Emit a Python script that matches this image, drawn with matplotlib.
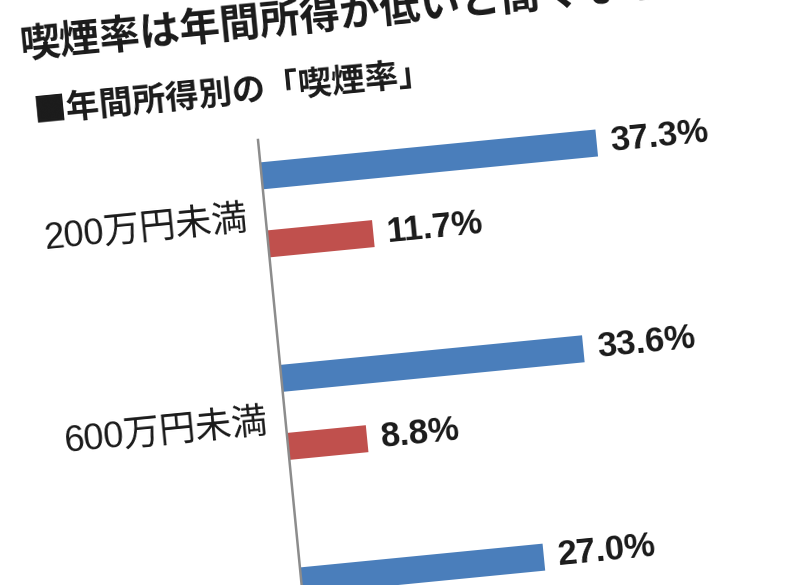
import matplotlib
matplotlib.use('Agg')
import matplotlib.pyplot as plt
from matplotlib.transforms import Affine2D

title = '喫煙率は年間所得が低いと高くなる'
subtitle = '■年間所得別の「喫煙率」'
categories = ['200万円未満', '600万円未満']
blue_values = [37.3, 33.6, 27.0]
red_values = [11.7, 8.8]

W, H = 810, 585
TILT = 5.6                 # the whole picture is turned a little
PIVOT = (258, H - 140)     # top of the value axis, display px
JP = ['Noto Sans CJK JP', 'DejaVu Sans']
LABEL_FONT = ['Liberation Sans', 'Noto Sans CJK JP']

fig = plt.figure(figsize=(W / 100, H / 100), dpi=100)
fig.patch.set_facecolor('white')

px_per_pct = 9.03
px_per_group = 203.5
x_max = 50
y_top, y_bottom = -0.345, 2.8
ax_w = x_max * px_per_pct
ax_h = (y_bottom - y_top) * px_per_group
ax = fig.add_axes([PIVOT[0] / W, (PIVOT[1] - ax_h) / H, ax_w / W, ax_h / H])
ax.set_xlim(0, x_max)
ax.set_ylim(y_bottom, y_top)
ax.axis('off')

rot = Affine2D().rotate_deg_around(PIVOT[0], PIVOT[1], TILT)
tilted = ax.transData + rot

bar_h = 0.133
offset = 0.168
blue_y = [i - offset for i in range(len(blue_values))]
red_y = [i + offset for i in range(len(red_values))]

for ys, vals, color in [(blue_y, blue_values, '#4a7ebb'), (red_y, red_values, '#c0504d')]:
    bars = ax.barh(ys, vals, height=bar_h, color=color)
    for b in bars:
        b.set_transform(tilted)
        b.set_clip_on(False)
    for y, v in zip(ys, vals):
        ax.text(v + 14 / px_per_pct, y, f'{v:.1f}%', transform=tilted,
                rotation=TILT, rotation_mode='anchor', ha='left', va='center',
                fontsize=25, fontweight='bold', family='Liberation Sans',
                color='#1a1a1a', clip_on=False)

for i, cat in enumerate(categories):
    ax.text(-18.5 / px_per_pct, i + 8 / px_per_group, cat, transform=tilted,
            rotation=TILT, rotation_mode='anchor', ha='right', va='center',
            fontsize=26, family=LABEL_FONT, color='#1a1a1a', clip_on=False)

# value axis line
ax.plot([0, 0], [y_top, y_bottom], color='#8c8c8c', lw=1.8,
        transform=tilted, clip_on=False)

fig_rot = fig.transFigure + rot
fig.text(30 / W, 1 - 23.5 / H, title, transform=fig_rot, rotation=TILT,
         rotation_mode='anchor', ha='left', va='center', fontsize=29,
         fontweight='bold', family=JP, color='#1a1a1a')
fig.text(37 / W, 1 - 90.5 / H, subtitle, transform=fig_rot, rotation=TILT,
         rotation_mode='anchor', ha='left', va='center', fontsize=24,
         fontweight='bold', family=JP, color='#1a1a1a')

fig.savefig('out.png', dpi=100)
